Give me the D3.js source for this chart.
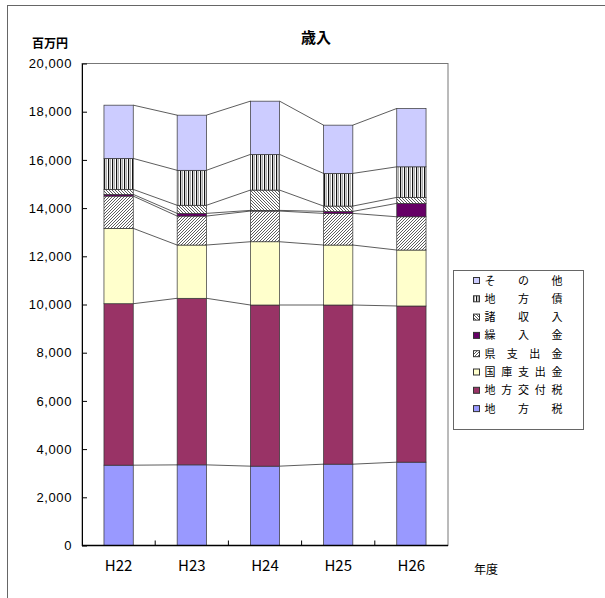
<!DOCTYPE html>
<html>
<head>
<meta charset="utf-8">
<script src="https://cdn.jsdelivr.net/npm/d3@7.9.0/dist/d3.min.js"></script>
<style>
  body { margin: 0; background: #fff; }
  svg { display: block; font-family: "Noto Sans CJK JP", "Noto Sans", sans-serif; }
</style>
</head>
<body>
<svg id="chart" width="605" height="598"></svg>
<script>
// --- data (百万円) ---
const years = ['H22', 'H23', 'H24', 'H25', 'H26'];
// stack order, bottom -> top
const seriesNames = ['地方税', '地方交付税', '国庫支出金', '県支出金', '繰入金', '諸収入', '地方債', 'その他'];
const chihozei     = [3333, 3346, 3292, 3375, 3458];
const kofuzei      = [6700, 6911, 6687, 6604, 6480];
const kokko        = [3126, 2210, 2625, 2488, 2322];
const kenShishutsu = [1339, 1202, 1273, 1314, 1380];
const kurikomi     = [71, 112, 28, 83, 556];
const shoshunyu    = [207, 336, 842, 220, 248];
const chihosai     = [1285, 1451, 1480, 1356, 1269];
const sonota       = [2210, 2288, 2210, 2002, 2421];
const yTicks = [0, 2000, 4000, 6000, 8000, 10000, 12000, 14000, 16000, 18000, 20000];

const seriesValues = [chihozei, kofuzei, kokko, kenShishutsu, kurikomi, shoshunyu, chihosai, sonota];
const fills = ['#9999FF', '#993366', '#FFFFCC', 'url(#pFwd)', '#660066', 'url(#pBack)', 'url(#pVert)', '#CCCCFF'];

const table = years.map((yr, i) => {
  const row = { year: yr };
  seriesNames.forEach((s, j) => row[s] = seriesValues[j][i]);
  return row;
});
const stacked = d3.stack().keys(seriesNames)(table);

// --- layout ---
const svg = d3.select('#chart');
const plot = { left: 82, right: 448, top: 63.5, bottom: 545.5 };

const x = d3.scaleBand().domain(years).range([plot.left, plot.right]);
const y = d3.scaleLinear().domain([0, 20000]).range([plot.bottom, plot.top]);
const barW = x.bandwidth() * 0.4;
const barOff = x.bandwidth() * 0.3;

// patterns
const defs = svg.append('defs');
function hatch(id, d) {
  const p = defs.append('pattern').attr('id', id).attr('patternUnits', 'userSpaceOnUse')
    .attr('width', 3).attr('height', 3);
  p.append('rect').attr('width', 3).attr('height', 3).attr('fill', '#fff');
  p.append('path').attr('d', d).attr('stroke', '#333').attr('stroke-width', 0.8);
}
hatch('pFwd', 'M-1,1 L1,-1 M0,3 L3,0 M2,4 L4,2');
hatch('pBack', 'M-1,2 L1,4 M0,0 L3,3 M2,-1 L4,1');
const pv = defs.append('pattern').attr('id', 'pVert').attr('patternUnits', 'userSpaceOnUse')
  .attr('width', 4).attr('height', 4);
pv.append('rect').attr('width', 4).attr('height', 4).attr('fill', '#fff');
pv.append('rect').attr('x', 0).attr('width', 1.2).attr('height', 4).attr('fill', '#111');
pv.append('rect').attr('x', 2.2).attr('width', 0.8).attr('height', 4).attr('fill', '#999');

// outer chart frame
svg.append('rect').attr('x', 7.5).attr('y', 5.5).attr('width', 640).attr('height', 640)
  .attr('fill', 'none').attr('stroke', '#666');

// plot frame
svg.append('rect')
  .attr('x', plot.left).attr('y', plot.top)
  .attr('width', plot.right - plot.left).attr('height', plot.bottom - plot.top)
  .attr('fill', '#fff').attr('stroke', '#777');

// bars
svg.append('g').selectAll('g')
  .data(stacked)
  .join('g')
    .attr('fill', (d, i) => fills[i])
  .selectAll('rect')
  .data(d => d)
  .join('rect')
    .attr('x', d => x(d.data.year) + barOff)
    .attr('y', d => y(d[1]))
    .attr('width', barW)
    .attr('height', d => y(d[0]) - y(d[1]))
    .attr('stroke', '#333')
    .attr('stroke-width', 0.7);

// series lines between bars
const lines = svg.append('g').attr('stroke', '#333').attr('stroke-width', 0.8);
stacked.forEach(s => {
  for (let i = 0; i < years.length - 1; i++) {
    lines.append('line')
      .attr('x1', x(years[i]) + barOff + barW)
      .attr('y1', y(s[i][1]))
      .attr('x2', x(years[i + 1]) + barOff)
      .attr('y2', y(s[i + 1][1]));
  }
});

// y axis
const yAxis = svg.append('g').attr('transform', `translate(${plot.left},0)`)
  .call(d3.axisLeft(y).tickValues(yTicks).tickFormat(d3.format(',')).tickSizeInner(-5).tickSizeOuter(0).tickPadding(10));
yAxis.select('.domain').attr('stroke', '#000');
yAxis.selectAll('.tick line').attr('stroke', '#000');
yAxis.selectAll('text').attr('font-size', 13).attr('fill', '#000').attr('letter-spacing', 0.6);

// x axis
svg.append('line').attr('x1', plot.left).attr('x2', plot.right)
  .attr('y1', plot.bottom).attr('y2', plot.bottom).attr('stroke', '#000').attr('stroke-width', 1.5);
svg.append('g').selectAll('line')
  .data(years.slice(1))
  .join('line')
    .attr('x1', d => x(d)).attr('x2', d => x(d))
    .attr('y1', plot.bottom).attr('y2', plot.bottom - 5)
    .attr('stroke', '#000');
svg.append('g').selectAll('text')
  .data(years)
  .join('text')
    .attr('x', d => x(d) + x.bandwidth() / 2)
    .attr('y', 571)
    .attr('text-anchor', 'middle')
    .attr('font-size', 15)
    .text(d => d);

// titles
svg.append('text').attr('x', 316).attr('y', 43).attr('text-anchor', 'middle')
  .attr('font-size', 15).attr('font-weight', 'bold').text('歳入');
svg.append('text').attr('x', 50).attr('y', 48).attr('text-anchor', 'middle')
  .attr('font-size', 12).attr('font-weight', 'bold').text('百万円');
svg.append('text').attr('x', 486).attr('y', 574).attr('text-anchor', 'middle')
  .attr('font-size', 12).text('年度');

// legend (top -> bottom is reverse of stack)
const legend = svg.append('g');
legend.append('rect').attr('x', 453.5).attr('y', 270.5).attr('width', 130).attr('height', 159)
  .attr('fill', '#fff').attr('stroke', '#666');
const legendItems = seriesNames.map((s, j) => ({ name: s, fill: fills[j] })).reverse();
legendItems.forEach((d, i) => {
  const cy = 280.5 + i * 18.3;
  legend.append('rect').attr('x', 473.5).attr('y', cy - 3).attr('width', 6).attr('height', 6)
    .attr('fill', d.fill).attr('stroke', '#333').attr('stroke-width', 1);
  const chars = Array.from(d.name);
  const step = (557 - 490) / (chars.length - 1);
  chars.forEach((c, k) => {
    legend.append('text').attr('x', 490 + k * step).attr('y', cy + 4)
      .attr('text-anchor', 'middle').attr('font-size', 11).text(c);
  });
});
</script>
</body>
</html>
